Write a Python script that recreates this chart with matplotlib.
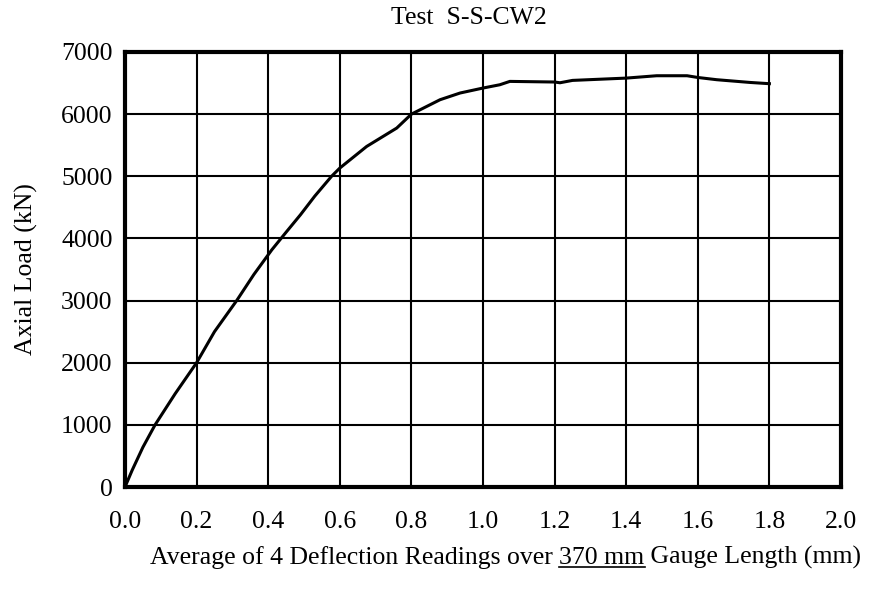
import matplotlib
matplotlib.use("Agg")
import matplotlib.pyplot as plt
import numpy as np

#%% Data
Deflection = [0.0, 0.02, 0.05, 0.084, 0.14, 0.20, 0.25, 0.312, 0.36, 0.41,
              0.45, 0.49, 0.53, 0.577, 0.60, 0.675, 0.759, 0.80, 0.88, 0.936,
              1.00, 1.047, 1.075, 1.20, 1.215, 1.25, 1.40, 1.485, 1.57, 1.60,
              1.653, 1.746, 1.80]
AxialLoad  = [0, 270, 640, 1000, 1500, 2000, 2500, 3000, 3420, 3816,
              4100, 4380, 4680, 5000, 5132, 5480, 5776, 6000, 6232, 6340,
              6420, 6473, 6527, 6517, 6505, 6543, 6580, 6618, 6618, 6590,
              6554, 6510, 6490]

XTicks = np.arange(0, 2.01, 0.2)
YTicks = np.arange(0, 7001, 1000)

Title   = "Test  S-S-CW2"
YLabel  = "Axial Load (kN)"
XLabel_pre  = "Average of 4 Deflection Readings over "
XLabel_mid  = "370 mm"
XLabel_post = " Gauge Length (mm)"

FontName = "Liberation Serif"
FontSize = 18.5

#%% Figure
Fig = plt.figure(figsize = [8.77, 5.90], dpi = 100)
ax = plt.axes([125/877, 1 - 487/590, (841 - 125)/877, (487 - 52)/590])

ax.plot(Deflection, AxialLoad, c = "k", linewidth = 2.2)

ax.set_xlim(0, 2.0)
ax.set_ylim(0, 7000)
ax.set_xticks(XTicks)
ax.set_xticklabels(["%.1f" % t for t in XTicks], fontsize = FontSize, fontfamily = FontName)
ax.set_yticks(YTicks)
ax.set_yticklabels(["%d" % t for t in YTicks], fontsize = FontSize, fontfamily = FontName)
ax.tick_params(length = 0)
ax.tick_params(axis = "x", pad = 17)
ax.tick_params(axis = "y", pad = 9)

ax.grid(True, color = "k", linewidth = 1.5)
ax.spines[:].set_linewidth(3)

ax.set_title(Title, fontsize = FontSize, fontfamily = FontName, pad = 20,
             x = (469 - 125)/716)
ax.set_ylabel(YLabel, fontsize = FontSize, fontfamily = FontName)
ax.yaxis.set_label_coords((38 - 125)/716, 0.5)

# x label with the underlined gauge length, drawn in pieces
renderer = Fig.canvas.get_renderer()
x0 = 150/877
y0 = 1 - 564/590


def text_width(s):
    # width in figure units, trailing spaces included
    t = Fig.text(0, 0, s + "|", fontsize = FontSize, fontfamily = FontName)
    b = Fig.text(0, 0, "|", fontsize = FontSize, fontfamily = FontName)
    w = (t.get_window_extent(renderer = renderer).width
         - b.get_window_extent(renderer = renderer).width) / Fig.bbox.width
    t.remove()
    b.remove()
    return w


x = x0
for i, piece in enumerate([XLabel_pre, XLabel_mid, XLabel_post]):
    Fig.text(x, y0, piece, fontsize = FontSize, fontfamily = FontName,
             ha = "left", va = "baseline")
    w = text_width(piece)
    if i == 1:
        Fig.add_artist(plt.Line2D([x, x + w], [y0 - 3/590, y0 - 3/590],
                                  color = "k", linewidth = 1.2,
                                  transform = Fig.transFigure))
    x += w

plt.savefig("out.png", dpi = 100)
